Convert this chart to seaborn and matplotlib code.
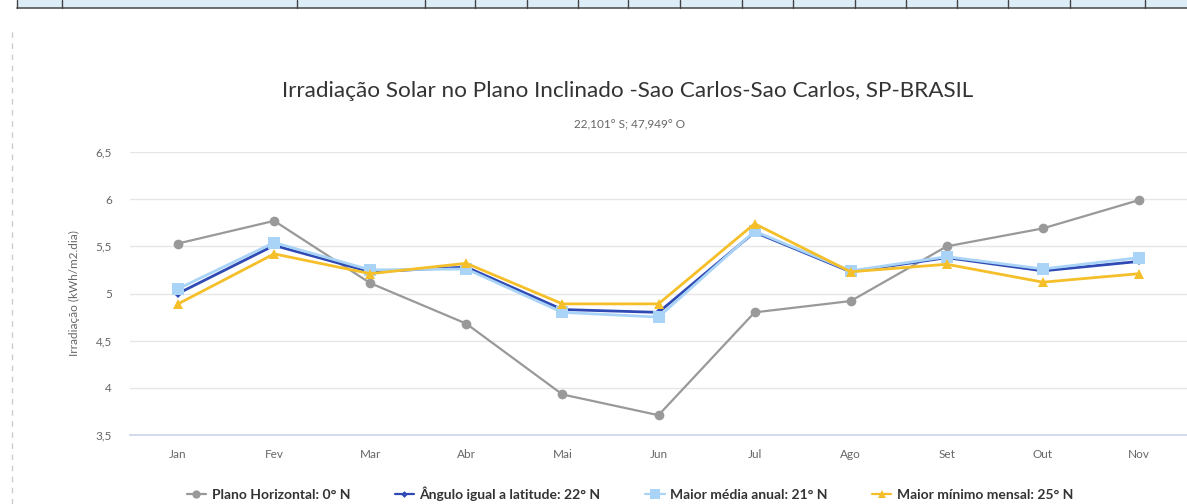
import pandas as pd
import matplotlib.pyplot as plt
import seaborn as sns
from matplotlib.lines import Line2D

meses = ['Jan', 'Fev', 'Mar', 'Abr', 'Mai', 'Jun', 'Jul', 'Ago', 'Set', 'Out', 'Nov']
plano_horizontal = [5.53, 5.77, 5.11, 4.68, 3.93, 3.71, 4.80, 4.92, 5.50, 5.69, 5.99]
angulo_latitude = [5.00, 5.51, 5.23, 5.28, 4.83, 4.80, 5.65, 5.23, 5.38, 5.24, 5.34]
maior_media = [5.05, 5.54, 5.25, 5.26, 4.80, 4.75, 5.66, 5.24, 5.39, 5.26, 5.38]
maior_minimo = [4.89, 5.42, 5.21, 5.32, 4.89, 4.89, 5.74, 5.23, 5.31, 5.12, 5.21]

series_names = ['Plano Horizontal: 0° N', 'Ângulo igual a latitude: 22° N',
                'Maior média anual: 21° N', 'Maior mínimo mensal: 25° N']
series_values = [plano_horizontal, angulo_latitude, maior_media, maior_minimo]
colors = ['#999999', '#2f4ab5', '#a9d4f7', '#f5bf2a']
markers = ['o', 'D', 's', '^']
msizes = [7, 4, 8, 7]

rows = []
for name, vals in zip(series_names, series_values):
    for i, v in enumerate(vals):
        rows.append({'mes': i, 'serie': name, 'valor': v})
df = pd.DataFrame(rows)

sns.set_theme(style="white")
plt.rcParams['font.family'] = ['Lato', 'DejaVu Sans']

fig = plt.figure(figsize=(11.87, 5.04), dpi=100)
W, H = 1187, 504
ax = fig.add_axes([130 / W, (H - 435) / H, (W - 130) / W, (435 - 152) / H])

for name, col, mk, ms in zip(series_names, colors, markers, msizes):
    sub = df[df['serie'] == name]
    sns.lineplot(data=sub, x='mes', y='valor', color=col, marker=mk, markersize=ms,
                 markeredgewidth=0, linewidth=2 if name != series_names[0] else 1.6,
                 ax=ax, legend=False)

ax.set_xlim(-0.5, (W - 178) / 97)
ax.set_ylim(3.5, 6.5)
ax.set_yticks([3.5, 4, 4.5, 5, 5.5, 6, 6.5])
ax.set_yticklabels(['3,5', '4', '4,5', '5', '5,5', '6', '6,5'], color='#666666', fontsize=8.5)
ax.set_xticks(range(len(meses)))
ax.set_xticklabels(meses, color='#666666', fontsize=8.5)
ax.set_xticks([i + 0.5 for i in range(-1, len(meses))], minor=True)
ax.tick_params(axis='x', which='major', length=0, pad=10)
ax.tick_params(axis='x', which='minor', length=10, color='#ccd6eb', width=1)
ax.tick_params(axis='y', length=0, pad=13)
ax.set_xlabel('')
ax.set_ylabel('Irradiação (kWh/m2.dia)', color='#666666', fontsize=8.5, labelpad=11)
for s in ['top', 'right', 'left']:
    ax.spines[s].set_visible(False)
ax.spines['bottom'].set_color('#ccd6eb')
ax.grid(axis='y', color='#e6e6e6', linewidth=1)
ax.set_axisbelow(True)

fig.text(628 / W, 1 - 91 / H, 'Irradiação Solar no Plano Inclinado -Sao Carlos-Sao Carlos, SP-BRASIL',
         ha='center', va='center', fontsize=16.2, color='#333333')
fig.text(630 / W, 1 - 125 / H, '22,101° S; 47,949° O', ha='center', va='center',
         fontsize=8.5, color='#666666')

handles = [Line2D([0], [0], color=c, marker=m, markersize=s * 0.85, markeredgewidth=0, linewidth=1.6)
           for c, m, s in zip(colors, markers, msizes)]
fig.legend(handles, series_names, loc='center', bbox_to_anchor=(630 / W, 1 - 494 / H), ncol=4,
           frameon=False, handlelength=1.4, handletextpad=0.4, columnspacing=3.2,
           prop={'weight': 'bold', 'size': 10}, labelcolor='#333333')

# page decorations: table fragment on top and dashed frame on the left
fig.patches.append(plt.Rectangle((17 / W, 1 - 8 / H), (W - 17) / W, 8 / H, transform=fig.transFigure,
                                 facecolor='#dcedf8', edgecolor='none'))
fig.add_artist(Line2D([17 / W, 1], [1 - 8 / H, 1 - 8 / H], color='#555555', linewidth=1.2))
for xp in [17, 62, 297, 425, 475, 527, 578, 628, 680, 742, 793, 855, 906, 957, 1008, 1070, 1145]:
    fig.add_artist(Line2D([xp / W, xp / W], [1 - 8 / H, 1], color='#444444', linewidth=1))
fig.add_artist(Line2D([12 / W, 12 / W], [0, 1 - 28 / H], color='#cccccc', linewidth=1,
                      linestyle=(0, (4, 4))))

fig.savefig('out.png', dpi=100)
